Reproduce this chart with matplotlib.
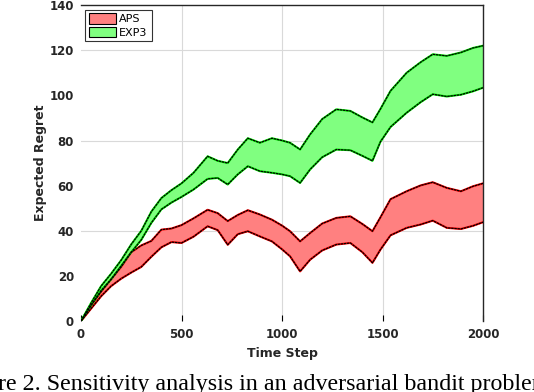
import matplotlib
matplotlib.use("Agg")
import matplotlib.pyplot as plt
from matplotlib.patches import Patch

# ------------------- Data ------------------- #

time_step = [0, 50, 100, 150, 200, 250, 300, 350, 400, 450, 500, 560, 630, 680,
             730, 780, 830, 890, 950, 1000, 1040, 1090, 1140, 1200, 1270, 1340,
             1400, 1450, 1490, 1540, 1620, 1690, 1750, 1820, 1890, 1950, 2000]

exp3_upper = [0, 8, 15.5, 21, 27, 34, 40, 48.5, 54.5, 58, 61, 65.7, 73, 71,
              70, 76, 81, 79, 81, 80, 79, 76, 82.7, 89.5, 93.8, 93.1,
              90.2, 88, 94, 102, 110, 114.7, 118.2, 117.5, 119, 121, 122]
exp3_lower = [0, 7, 13.5, 18.5, 24.5, 30.5, 36, 43.5, 49.5, 52.5, 55, 58.3, 63, 63.4,
              60.5, 65, 68.6, 66.4, 65.7, 65, 64.2, 61.2, 67.2, 72.6, 76, 75.7,
              73.2, 71, 79.5, 86, 92.3, 97, 100.5, 99.5, 100.3, 101.8, 103.4]

aps_upper = [0, 7, 13, 18.5, 24, 30.5, 33.5, 35.5, 40.5, 41, 42.5, 45.5, 49.3, 47.8,
             44.3, 47, 49.1, 47.2, 44.9, 42.3, 39.8, 35.3, 39, 43.2, 45.7, 46.4,
             43, 39.8, 46, 54, 57.5, 60.1, 61.5, 59, 57.5, 59.7, 61]
aps_lower = [0, 5.5, 11, 15.5, 18.8, 21.5, 24, 28.5, 32.7, 35, 34.6, 37.4, 42, 40.3,
             33.8, 38.5, 39.8, 37.5, 35.3, 31.8, 28.7, 22, 27.2, 31.3, 33.9, 34.6,
             30.5, 25.8, 31.7, 38, 41.3, 42.8, 44.5, 41.3, 40.8, 42.2, 43.8]

x_ticks = [0, 500, 1000, 1500, 2000]
y_ticks = [0, 20, 40, 60, 80, 100, 120, 140]

# ------------------- Plot ------------------- #

fig = plt.figure(figsize=(5.34, 3.92), dpi=100)
ax = fig.add_axes([0.1517, 0.181, 0.7528, 0.806])

for xv in [500, 1000, 1500]:
    ax.axvline(xv, color='#d9d9d9', lw=0.8, zorder=0)
for yv in [40, 80, 120]:
    ax.axhline(yv, color='#d9d9d9', lw=0.8, zorder=0)

bands = [
    (aps_lower, aps_upper, '#ff8080', '#ff0000'),
    (exp3_lower, exp3_upper, '#80ff80', '#00ee00'),
]
for lo, hi, fill_c, edge_c in bands:
    ax.fill_between(time_step, lo, hi, color=fill_c, lw=0, zorder=2)
    for edge in (lo, hi):
        ax.plot(time_step, edge, color=edge_c, lw=1.5, zorder=3)
        ax.plot(time_step, edge, color='black', lw=0.9, ls=(0, (2.0, 0.5)), zorder=4)

ax.set_xlim(0, 2000)
ax.set_ylim(0, 140)

ax.set_xticks(x_ticks)
ax.set_yticks(y_ticks)
ax.set_yticks([40, 80, 120], minor=True)
ax.tick_params(axis='x', which='major', direction='in', length=4, width=0.8,
               labelsize=8.5, pad=5)
ax.tick_params(axis='y', which='major', length=0, labelsize=8.5, pad=5)
ax.tick_params(axis='y', which='minor', direction='in', length=4, width=0.8)
for lbl in ax.get_xticklabels() + ax.get_yticklabels():
    lbl.set_fontweight('bold')
    lbl.set_color('#262626')

ax.spines['left'].set_visible(False)
ax.spines['bottom'].set_visible(False)
for s in ('top', 'right'):
    ax.spines[s].set_linewidth(1.0)
    ax.spines[s].set_color('#262626')

ax.set_xlabel('Time Step', fontsize=9, fontweight='bold', color='#262626', labelpad=4)
ax.set_ylabel('Expected Regret', fontsize=9, fontweight='bold', color='#262626', labelpad=2)

handles = [Patch(facecolor='#ff8080', edgecolor='black', lw=0.8, label='APS'),
           Patch(facecolor='#80ff80', edgecolor='black', lw=0.8, label='EXP3')]
leg = ax.legend(handles=handles, loc='upper left', fontsize=8, frameon=True,
                fancybox=False, borderaxespad=0.4, borderpad=0.35,
                handlelength=2.4, handleheight=1.05, handletextpad=0.3,
                labelspacing=0.2)
leg.get_frame().set_edgecolor('black')
leg.get_frame().set_linewidth(0.8)

fig.text(-0.087, 0.005, 'Figure 2. Sensitivity analysis in an adversarial bandit problem.',
         fontsize=17.3, family='Liberation Serif', ha='left', va='baseline')

fig.savefig('out.png', dpi=100)
